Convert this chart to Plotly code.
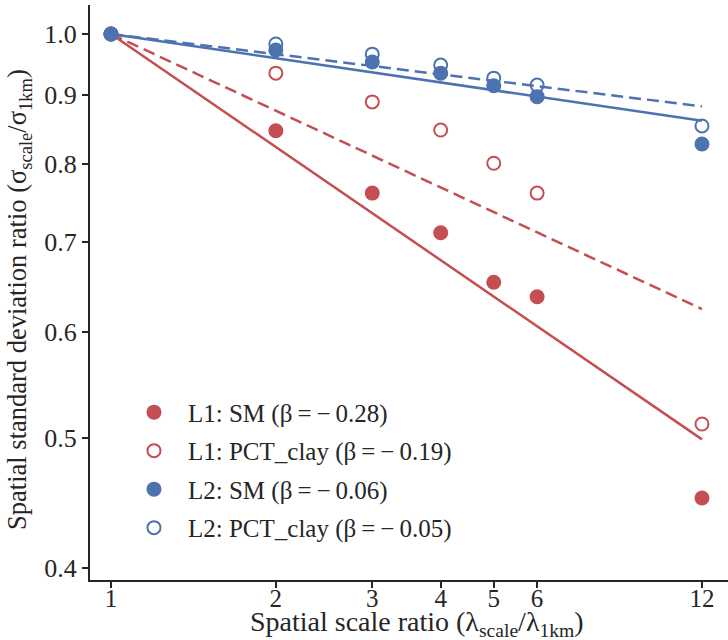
import numpy as np
import plotly.graph_objects as go

scales = [1, 2, 3, 4, 5, 6, 12]
l1_sm = [1.0, 0.847, 0.761, 0.711, 0.653, 0.637, 0.451]
l1_clay = [1.0, 0.935, 0.890, 0.848, 0.801, 0.761, 0.512]
l2_sm = [1.0, 0.973, 0.953, 0.935, 0.915, 0.898, 0.828]
l2_clay = [1.0, 0.983, 0.966, 0.948, 0.927, 0.916, 0.854]
betas = [-0.28, -0.19, -0.06, -0.05]
names = ["L1: SM", "L1: PCT_clay", "L2: SM", "L2: PCT_clay"]
x_title = "Spatial scale ratio (λ<sub>scale</sub>/λ<sub>1km</sub>)"
y_title = "Spatial standard deviation ratio (σ<sub>scale</sub>/σ<sub>1km</sub>)"

RED = "#C44E52"
BLUE = "#4C72B0"
FONT = "Liberation Serif"
TXT = "#262626"

series = [l1_sm, l1_clay, l2_sm, l2_clay]
colors = [RED, RED, BLUE, BLUE]
filled = [True, False, True, False]
dashes = ["solid", "12px,6px", "solid", "12px,6px"]

fig = go.Figure()

xfit = np.array([scales[0], scales[-1]], dtype=float)
for b, c, d in zip(betas, colors, dashes):
    fig.add_trace(go.Scatter(x=xfit, y=xfit ** b, mode="lines",
                             line=dict(color=c, width=2.5, dash=d),
                             showlegend=False, hoverinfo="skip"))

for i, (vals, c, f, b, n) in enumerate(zip(series, colors, filled, betas, names)):
    label = f"{n} (β\u2009=\u2009\u2212\u2009{abs(b):.2f})"
    if f:
        marker = dict(symbol="circle", size=15, color=c, line=dict(width=0))
    else:
        marker = dict(symbol="circle-open", size=13, color=c, line=dict(width=2, color=c))
    fig.add_trace(go.Scatter(x=scales, y=vals, mode="markers", marker=marker,
                             name=label, legendgroup=f"g{i}"))

fig.update_layout(
    width=728, height=640,
    margin=dict(l=90, r=0, t=5, b=60, autoexpand=False),
    paper_bgcolor="white", plot_bgcolor="white",
    font=dict(family=FONT, size=25, color=TXT),
    legend=dict(x=0.047, y=0.3315, xanchor="left", yanchor="top",
                bgcolor="rgba(0,0,0,0)", tracegroupgap=3, itemwidth=58,
                font=dict(family=FONT, size=25, color=TXT)),
    showlegend=True,
    annotations=[
        dict(text=x_title, xref="paper", yref="paper", x=0.5125, y=-0.075,
             xanchor="center", yanchor="middle", showarrow=False,
             font=dict(family=FONT, size=28, color=TXT)),
        dict(text=y_title, xref="paper", yref="paper", x=-0.1105, y=0.488,
             xanchor="center", yanchor="middle", showarrow=False, textangle=-90,
             font=dict(family=FONT, size=26.5, color=TXT)),
    ],
)
fig.update_xaxes(
    type="log", range=[-0.0383, 1.1267], automargin=False,
    tickvals=scales, ticktext=[str(s) for s in scales],
    ticks="outside", ticklen=6, tickwidth=1.5, tickcolor=TXT,
    showline=True, linecolor=TXT, linewidth=2,
    showgrid=False, zeroline=False,
    tickfont=dict(size=25), ticklabelstandoff=-11,
)
yt = [0.4, 0.5, 0.6, 0.7, 0.8, 0.9, 1.0]
fig.update_yaxes(
    type="log", range=[-0.407, 0.0216], automargin=False,
    tickvals=yt, ticktext=[f"{v:.1f}" for v in yt],
    ticks="outside", ticklen=6, tickwidth=1.5, tickcolor=TXT,
    showline=True, linecolor=TXT, linewidth=2,
    showgrid=False, zeroline=False,
    tickfont=dict(size=26),
)

fig.write_html("out.html", config={"displayModeBar": False},
               post_script="document.body.style.margin='0';")
